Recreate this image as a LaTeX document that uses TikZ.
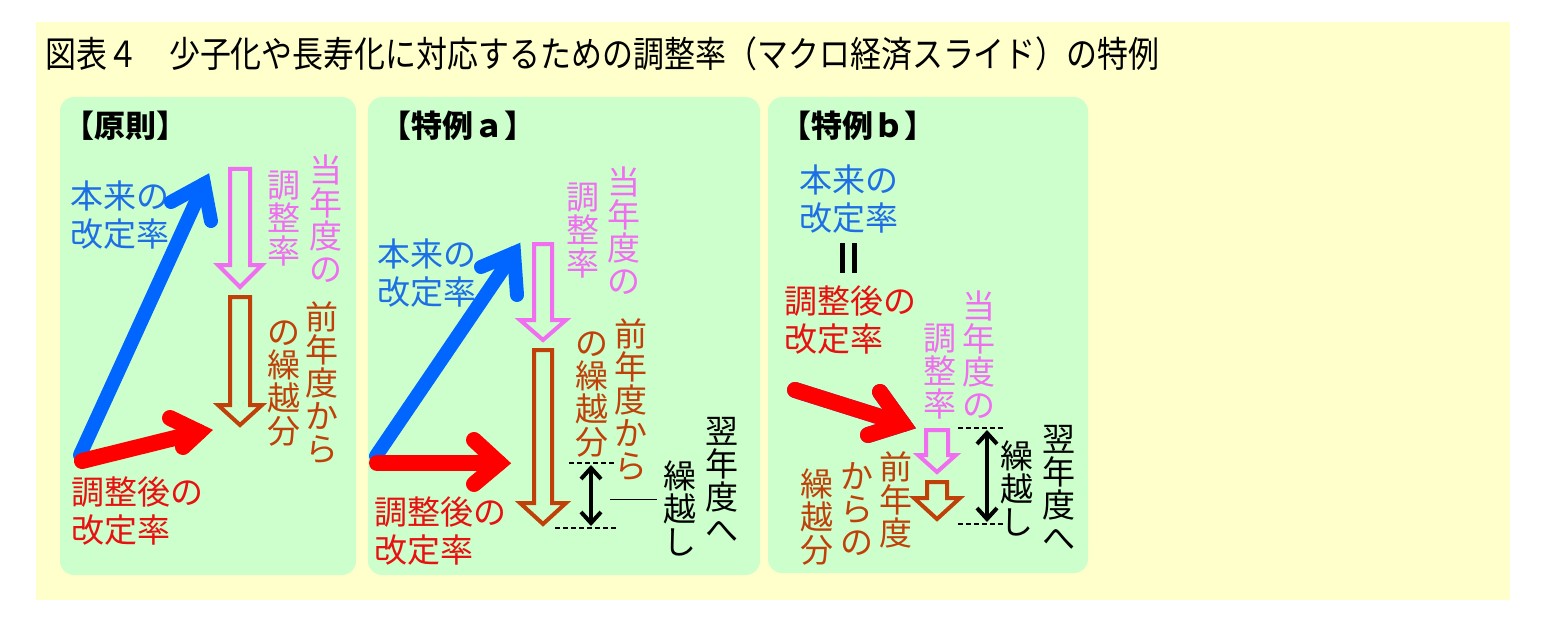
\documentclass[tikz,border=0pt]{standalone}
\usepackage{fontspec}
\setmainfont{Noto Sans CJK JP}
\newfontfamily\titlefont{Noto Sans CJK JP}[FakeStretch=0.86]
\usepackage{tikz}
\usetikzlibrary{arrows.meta}
\definecolor{BGY}{HTML}{FFFFCC}
\definecolor{PAN}{HTML}{CCFFCC}
\definecolor{ABL}{HTML}{0066FF}
\definecolor{TBL}{HTML}{1E6FE6}
\definecolor{ARD}{HTML}{FF0000}
\definecolor{TRD}{HTML}{E81010}
\definecolor{PNK}{HTML}{F06EF0}
\definecolor{BRN}{HTML}{C0400A}
\tikzset{
  PAN/.style={% Style for the green panels
      fill=PAN, draw=none,
      rounded corners=14pt
  },
  HEAD/.style={% Style for the panel headings
      font=\fontsize{31}{33}\selectfont\bfseries,
      text=black,
      inner sep=0pt
  },
  TXT/.style={% Horizontal labels, two lines
      font=\fontsize{33}{38}\selectfont,
      align=left, anchor=west,
      inner sep=0pt
  },
  VTXT/.style={% Vertical labels, one char per line
      font=\fontsize{33}{33}\selectfont,
      align=center,
      inner sep=0pt
  },
  FAT/.style={% Thick arrows
      line width=#1,
      line cap=round, line join=miter
  },
  HOLLOW/.style={% Outline block arrows
      draw=#1, line width=4pt,
      line join=miter
  },
  DASHLN/.style={
      dash pattern=on 5pt off 3pt,
      line width=1.6pt
  },
  SPAN/.style={
      line width=4pt,
      {Straight Barb[length=11pt,width=20pt]}-{Straight Barb[length=11pt,width=20pt]}
  }
}
\def\fatarrow[#1](#2)(#3)(#4)(#5){% style, tail, tip, arm one, arm two
  \draw[#1] (#2) -- (#3);
  \draw[#1] (#4) -- (#3) -- (#5);
}
\def\blockarrow[#1](#2,#3)#4#5#6#7{% style, centre x, top | head y, tip y, shaft half, head half
  \draw[#1] (#2-#6,#3) -- (#2-#6,#4) -- (#2-#7,#4) -- (#2,#5)
     -- (#2+#7,#4) -- (#2+#6,#4) -- (#2+#6,#3) -- cycle;
}
\begin{document}
\begin{tikzpicture}[x=1pt,y=-1pt]
  \useasboundingbox (0,0) rectangle (1548,623);
  \fill[white] (0,0) rectangle (1548,623);
  \fill[BGY] (36,22) rectangle (1510,600);
  \node[anchor=west, inner sep=0pt, font=\titlefont\fontsize{36}{38}\selectfont] (title) at (45,54)
    {図表４　少子化や長寿化に対応するための調整率（マクロ経済スライド）の特例};
  % panels
  \foreach \xa/\xb/\yb in {60/356/575, 368/760/575, 768/1088/573}
    \fill[PAN] (\xa,97) rectangle (\xb,\yb);
  \node[HEAD] (headP) at (125,126) {【原則】};
  \node[HEAD] (headA) at (458,126) {【特例ａ】};
  \node[HEAD] (headB) at (858,126) {【特例ｂ】};

  %% principle
  \node[TXT, text=TBL] (origP) at (70,215) {本来の\\改定率};
  \node[TXT, text=TRD] (adjP) at (71,511) {調整後の\\改定率};
  \node[VTXT, text=PNK] (curP1) at (326,219) {当\\年\\度\\の};
  \node[VTXT, text=PNK] (curP2) at (284,219) {調\\整\\率};
  \node[VTXT, text=BRN] (prvP1) at (322,383) {前\\年\\度\\か\\ら};
  \node[VTXT, text=BRN] (prvP2) at (284,384) {の\\繰\\越\\分};
  \coordinate (oBP) at (80,455);
  \coordinate (tBP) at (204,184);
  \coordinate (aBP1) at (171,202);
  \coordinate (aBP2) at (211,221);
  \coordinate (oRP) at (82,461);
  \coordinate (tRP) at (199,432);
  \coordinate (aRP1) at (170,418);
  \coordinate (aRP2) at (183,447);
  \fatarrow[FAT=14pt, draw=ABL](oBP)(tBP)(aBP1)(aBP2)
  \fatarrow[FAT=16pt, draw=ARD](oRP)(tRP)(aRP1)(aRP2)
  \blockarrow[HOLLOW=PNK](240,169){265}{287}{10}{22}
  \blockarrow[HOLLOW=BRN](240,297){405}{425}{10}{22}

  %% case a
  \node[TXT, text=TBL] (origA) at (377,273) {本来の\\改定率};
  \node[TXT, text=TRD] (adjA) at (374,531) {調整後の\\改定率};
  \node[VTXT, text=PNK] (curA1) at (624,231) {当\\年\\度\\の};
  \node[VTXT, text=PNK] (curA2) at (583,231) {調\\整\\率};
  \node[VTXT, text=BRN] (prvA1) at (631,400) {前\\年\\度\\か\\ら};
  \node[VTXT, text=BRN] (prvA2) at (592,395) {の\\繰\\越\\分};
  \node[VTXT] (nxtA1) at (722,480) {翌\\年\\度\\へ};
  \node[VTXT] (nxtA2) at (680,508) {繰\\越\\し};
  \coordinate (oBA) at (376,456);
  \coordinate (tBA) at (514,253);
  \coordinate (aBA1) at (481,267);
  \coordinate (aBA2) at (517,295);
  \coordinate (oRA) at (377,463);
  \coordinate (tRA) at (499,463);
  \coordinate (aRA1) at (474,440);
  \coordinate (aRA2) at (474,484);
  \fatarrow[FAT=14pt, draw=ABL](oBA)(tBA)(aBA1)(aBA2)
  \fatarrow[FAT=16pt, draw=ARD](oRA)(tRA)(aRA1)(aRA2)
  \blockarrow[HOLLOW=PNK](543,244){320}{340}{9}{23}
  \blockarrow[HOLLOW=BRN](543,350){503}{524}{9}{23}
  \draw[DASHLN] (569,463) coordinate (dA1) -- (616,463) coordinate (dA2);
  \draw[DASHLN] (555,528) coordinate (dA3) -- (616,528) coordinate (dA4);
  \coordinate (sA1) at (591,465);
  \coordinate (sA2) at (591,526);
  \draw[SPAN] (sA1) -- (sA2);
  \coordinate (lA1) at (610,499);
  \coordinate (lA2) at (657,499);
  \draw[line width=0.8pt] (lA1) -- (lA2);

  %% case b
  \node[TXT, text=TBL] (origB) at (799,199) {本来の\\改定率};
  \draw[line width=4.5pt] (842.5,243) -- (842.5,273);
  \draw[line width=4.5pt] (854.5,243) -- (854.5,273);
  \node[TXT, text=TRD] (adjB) at (784,320) {調整後の\\改定率};
  \node[VTXT, text=PNK] (curB1) at (979,355) {当\\年\\度\\の};
  \node[VTXT, text=PNK] (curB2) at (940,372) {調\\整\\率};
  \node[VTXT, text=BRN] (prvB1) at (896,500) {前\\年\\度};
  \node[VTXT, text=BRN] (prvB2) at (857,509) {か\\ら\\の};
  \node[VTXT, text=BRN] (prvB3) at (817,517) {繰\\越\\分};
  \node[VTXT] (nxtB1) at (1059,488) {翌\\年\\度\\へ};
  \node[VTXT] (nxtB2) at (1017,488) {繰\\越\\し};
  \coordinate (oRB) at (795,390);
  \coordinate (tRB) at (903,424);
  \coordinate (aRB1) at (880,392);
  \coordinate (aRB2) at (868,435);
  \begin{scope}[shift={(-2,4)}]
    \fatarrow[FAT=16pt, draw=ABL!80!violet](oRB)(tRB)(aRB1)(aRB2)
  \end{scope}
  \fatarrow[FAT=16pt, draw=ARD](oRB)(tRB)(aRB1)(aRB2)
  \blockarrow[HOLLOW=PNK](937,430){455}{472}{11}{19}
  \blockarrow[HOLLOW=BRN](937,482){498}{519}{10}{23}
  \draw[DASHLN] (958,428) coordinate (dB1) -- (1003,428) coordinate (dB2);
  \draw[DASHLN] (958,524) coordinate (dB3) -- (1003,524) coordinate (dB4);
  \coordinate (sB1) at (987,430);
  \coordinate (sB2) at (987,522);
  \draw[SPAN] (sB1) -- (sB2);
\end{tikzpicture}
\end{document}
